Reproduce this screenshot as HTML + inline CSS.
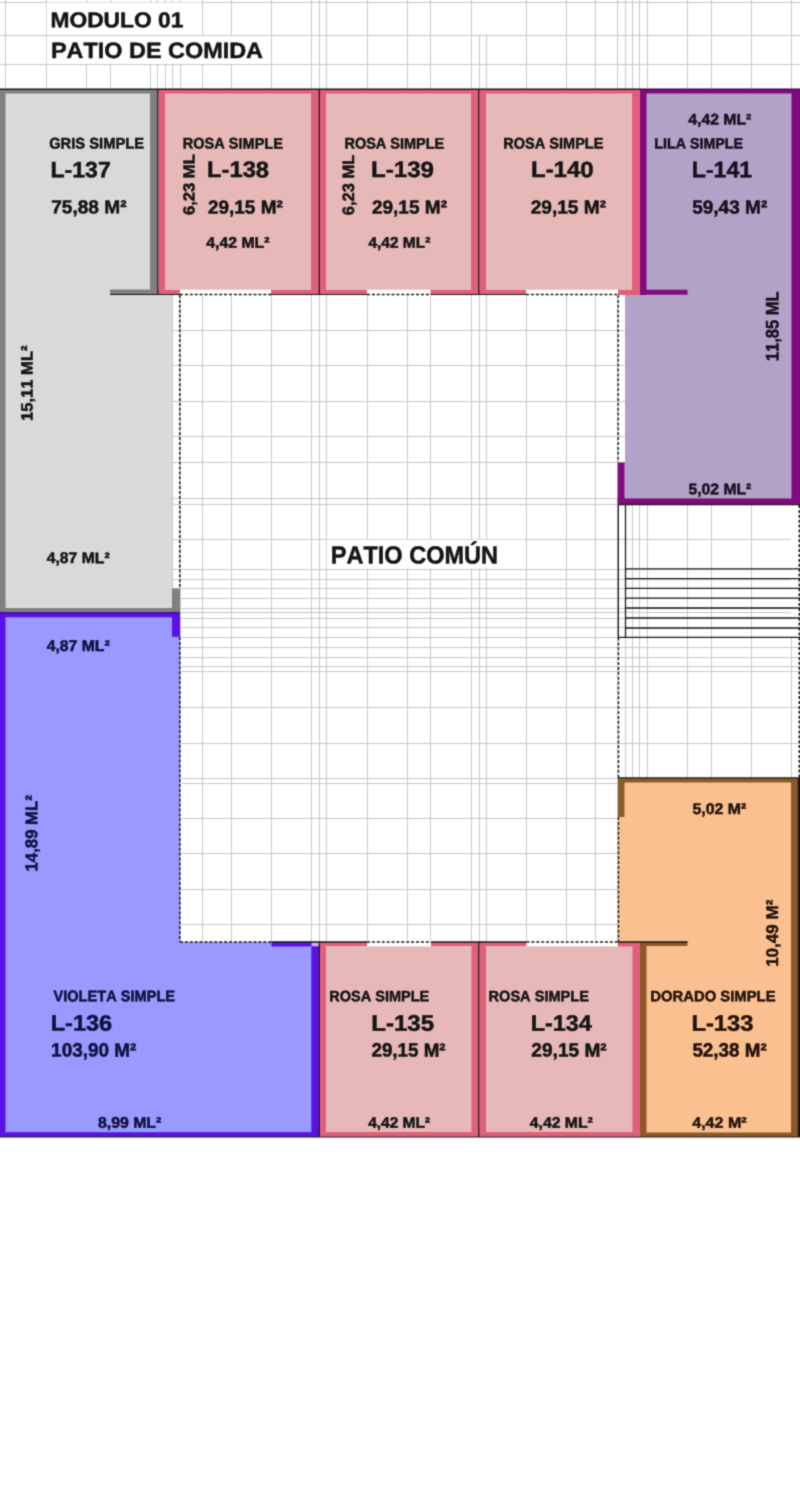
<!DOCTYPE html>
<html><head><meta charset="utf-8"><title>Modulo 01 - Patio de Comida</title>
<style>
html,body{margin:0;padding:0;background:#fff;}
body{width:800px;height:1500px;overflow:hidden;position:relative;font-family:"Liberation Sans",sans-serif;}
svg{display:block;position:absolute;left:0;top:0;}
svg text{font-family:"Liberation Sans",sans-serif;font-weight:bold;font-kerning:none;stroke-width:0.5px;stroke-linejoin:round;paint-order:stroke;}
</style></head><body>
<svg width="800" height="1500" viewBox="0 0 800 1500">
<rect x="0" y="0" width="800" height="1500" fill="#ffffff" />
<defs><filter id="soft" x="0" y="0" width="800" height="1500" filterUnits="userSpaceOnUse" color-interpolation-filters="sRGB"><feConvolveMatrix order="3" kernelMatrix="0.0277 0.1110 0.0277 0.1110 0.4452 0.1110 0.0277 0.1110 0.0277" edgeMode="duplicate" preserveAlpha="true"/></filter></defs>
<g filter="url(#soft)">
<rect x="0" y="0" width="800" height="1500" fill="#ffffff" />
<g id="grid">
<line x1="5.5" y1="0" x2="5.5" y2="1137" stroke="#c8c8c8" stroke-width="1" />
<line x1="46.5" y1="0" x2="46.5" y2="1137" stroke="#c8c8c8" stroke-width="1" />
<line x1="86.5" y1="0" x2="86.5" y2="1137" stroke="#c8c8c8" stroke-width="1" />
<line x1="110.5" y1="0" x2="110.5" y2="1137" stroke="#c8c8c8" stroke-width="1" />
<line x1="150.5" y1="0" x2="150.5" y2="1137" stroke="#c8c8c8" stroke-width="1" />
<line x1="157.5" y1="0" x2="157.5" y2="1137" stroke="#c8c8c8" stroke-width="1" />
<line x1="165.5" y1="0" x2="165.5" y2="1137" stroke="#c8c8c8" stroke-width="1" />
<line x1="172.5" y1="0" x2="172.5" y2="1137" stroke="#c8c8c8" stroke-width="1" />
<line x1="180.5" y1="0" x2="180.5" y2="1137" stroke="#c8c8c8" stroke-width="1" />
<line x1="202.5" y1="0" x2="202.5" y2="1137" stroke="#c8c8c8" stroke-width="1" />
<line x1="231.5" y1="0" x2="231.5" y2="1137" stroke="#c8c8c8" stroke-width="1" />
<line x1="271.5" y1="0" x2="271.5" y2="1137" stroke="#c8c8c8" stroke-width="1" />
<line x1="311.5" y1="0" x2="311.5" y2="1137" stroke="#c8c8c8" stroke-width="1" />
<line x1="319.5" y1="0" x2="319.5" y2="1137" stroke="#c8c8c8" stroke-width="1" />
<line x1="326.5" y1="0" x2="326.5" y2="1137" stroke="#c8c8c8" stroke-width="1" />
<line x1="367.5" y1="0" x2="367.5" y2="1137" stroke="#c8c8c8" stroke-width="1" />
<line x1="407.5" y1="0" x2="407.5" y2="1137" stroke="#c8c8c8" stroke-width="1" />
<line x1="430.5" y1="0" x2="430.5" y2="1137" stroke="#c8c8c8" stroke-width="1" />
<line x1="471.5" y1="0" x2="471.5" y2="1137" stroke="#c8c8c8" stroke-width="1" />
<line x1="479.5" y1="35" x2="479.5" y2="1137" stroke="#c8c8c8" stroke-width="1" />
<line x1="486.5" y1="35" x2="486.5" y2="1137" stroke="#c8c8c8" stroke-width="1" />
<line x1="526.5" y1="0" x2="526.5" y2="1137" stroke="#c8c8c8" stroke-width="1" />
<line x1="566.5" y1="0" x2="566.5" y2="1137" stroke="#c8c8c8" stroke-width="1" />
<line x1="595.5" y1="0" x2="595.5" y2="1137" stroke="#c8c8c8" stroke-width="1" />
<line x1="617.5" y1="0" x2="617.5" y2="1137" stroke="#c8c8c8" stroke-width="1" />
<line x1="625.5" y1="0" x2="625.5" y2="1137" stroke="#c8c8c8" stroke-width="1" />
<line x1="632.5" y1="0" x2="632.5" y2="1137" stroke="#c8c8c8" stroke-width="1" />
<line x1="639.5" y1="0" x2="639.5" y2="1137" stroke="#c8c8c8" stroke-width="1" />
<line x1="647.5" y1="0" x2="647.5" y2="1137" stroke="#c8c8c8" stroke-width="1" />
<line x1="687.5" y1="0" x2="687.5" y2="1137" stroke="#c8c8c8" stroke-width="1" />
<line x1="711.5" y1="0" x2="711.5" y2="1137" stroke="#c8c8c8" stroke-width="1" />
<line x1="751.5" y1="0" x2="751.5" y2="1137" stroke="#c8c8c8" stroke-width="1" />
<line x1="791.5" y1="0" x2="791.5" y2="1137" stroke="#c8c8c8" stroke-width="1" />
<line x1="0" y1="2.5" x2="800" y2="2.5" stroke="#c8c8c8" stroke-width="1" />
<line x1="0" y1="35.5" x2="800" y2="35.5" stroke="#c8c8c8" stroke-width="1" />
<line x1="0" y1="64.5" x2="800" y2="64.5" stroke="#c8c8c8" stroke-width="1" />
<line x1="0" y1="330.5" x2="800" y2="330.5" stroke="#c8c8c8" stroke-width="1" />
<line x1="0" y1="365.5" x2="800" y2="365.5" stroke="#c8c8c8" stroke-width="1" />
<line x1="0" y1="401.5" x2="800" y2="401.5" stroke="#c8c8c8" stroke-width="1" />
<line x1="0" y1="436.5" x2="800" y2="436.5" stroke="#c8c8c8" stroke-width="1" />
<line x1="0" y1="462.5" x2="800" y2="462.5" stroke="#c8c8c8" stroke-width="1" />
<line x1="0" y1="498.5" x2="800" y2="498.5" stroke="#c8c8c8" stroke-width="1" />
<line x1="0" y1="504.5" x2="800" y2="504.5" stroke="#c8c8c8" stroke-width="1" />
<line x1="0" y1="539.5" x2="800" y2="539.5" stroke="#c8c8c8" stroke-width="1" />
<line x1="0" y1="569.5" x2="800" y2="569.5" stroke="#c8c8c8" stroke-width="1" />
<line x1="0" y1="579.5" x2="800" y2="579.5" stroke="#c8c8c8" stroke-width="1" />
<line x1="0" y1="588.5" x2="800" y2="588.5" stroke="#c8c8c8" stroke-width="1" />
<line x1="0" y1="598.5" x2="800" y2="598.5" stroke="#c8c8c8" stroke-width="1" />
<line x1="0" y1="608.5" x2="800" y2="608.5" stroke="#c8c8c8" stroke-width="1" />
<line x1="0" y1="612.5" x2="800" y2="612.5" stroke="#c8c8c8" stroke-width="1" />
<line x1="0" y1="618.5" x2="800" y2="618.5" stroke="#c8c8c8" stroke-width="1" />
<line x1="0" y1="627.5" x2="800" y2="627.5" stroke="#c8c8c8" stroke-width="1" />
<line x1="0" y1="637.5" x2="800" y2="637.5" stroke="#c8c8c8" stroke-width="1" />
<line x1="0" y1="647.5" x2="800" y2="647.5" stroke="#c8c8c8" stroke-width="1" />
<line x1="0" y1="657.5" x2="800" y2="657.5" stroke="#c8c8c8" stroke-width="1" />
<line x1="0" y1="666.5" x2="800" y2="666.5" stroke="#c8c8c8" stroke-width="1" />
<line x1="0" y1="671.5" x2="800" y2="671.5" stroke="#c8c8c8" stroke-width="1" />
<line x1="0" y1="707.5" x2="800" y2="707.5" stroke="#c8c8c8" stroke-width="1" />
<line x1="0" y1="743.5" x2="800" y2="743.5" stroke="#c8c8c8" stroke-width="1" />
<line x1="0" y1="778.5" x2="800" y2="778.5" stroke="#c8c8c8" stroke-width="1" />
<line x1="0" y1="783.5" x2="800" y2="783.5" stroke="#c8c8c8" stroke-width="1" />
<line x1="0" y1="818.5" x2="800" y2="818.5" stroke="#c8c8c8" stroke-width="1" />
<line x1="0" y1="853.5" x2="800" y2="853.5" stroke="#c8c8c8" stroke-width="1" />
<line x1="0" y1="889.5" x2="800" y2="889.5" stroke="#c8c8c8" stroke-width="1" />
<line x1="0" y1="924.5" x2="800" y2="924.5" stroke="#c8c8c8" stroke-width="1" />
<rect x="46.7" y="2.7" width="155.1" height="31.9" fill="#fff" />
<rect x="46.7" y="36" width="223.6" height="27.8" fill="#fff" />
<rect x="326.7" y="539.7" width="198.6" height="28.6" fill="#fff" />
<rect x="790.8" y="505" width="9.2" height="132" fill="#fff" />
</g>
<g id="shapes">
<rect x="0" y="89" width="158" height="206" fill="#d9d9d9" />
<rect x="0" y="295" width="172" height="317" fill="#d9d9d9" />
<rect x="0" y="89" width="5.5" height="523" fill="#808080" />
<rect x="0" y="89.5" width="158" height="4" fill="#808080" />
<rect x="150" y="89" width="7.5" height="206" fill="#808080" />
<rect x="110" y="289.5" width="48" height="5" fill="#808080" />
<rect x="0" y="608" width="180" height="4.4" fill="#808080" />
<rect x="172" y="588.5" width="8" height="20" fill="#808080" />
<rect x="158.5" y="89" width="160.5" height="206" fill="#e6b8b7" />
<rect x="158.5" y="89" width="6.5" height="206" fill="#e0607a" />
<rect x="311" y="89" width="8" height="206" fill="#e0607a" />
<rect x="158.5" y="89.5" width="160.5" height="4" fill="#e0607a" />
<rect x="158.5" y="290" width="160.5" height="5" fill="#e0607a" />
<rect x="180" y="289.7" width="91" height="6.3" fill="#ffffff" />
<rect x="319.5" y="89" width="159.5" height="206" fill="#e6b8b7" />
<rect x="319.5" y="89" width="6.5" height="206" fill="#e0607a" />
<rect x="471" y="89" width="8" height="206" fill="#e0607a" />
<rect x="319.5" y="89.5" width="159.5" height="4" fill="#e0607a" />
<rect x="319.5" y="290" width="159.5" height="5" fill="#e0607a" />
<rect x="367" y="289.7" width="63.5" height="6.3" fill="#ffffff" />
<rect x="479.5" y="89" width="160.5" height="206" fill="#e6b8b7" />
<rect x="479.5" y="89" width="6.5" height="206" fill="#e0607a" />
<rect x="632" y="89" width="8" height="206" fill="#e0607a" />
<rect x="479.5" y="89.5" width="160.5" height="4" fill="#e0607a" />
<rect x="479.5" y="290" width="160.5" height="5" fill="#e0607a" />
<rect x="526" y="289.7" width="92" height="6.3" fill="#ffffff" />
<rect x="640" y="89" width="160" height="206" fill="#b3a2c7" />
<rect x="625" y="295" width="175" height="209.5" fill="#b3a2c7" />
<rect x="640" y="89" width="6.5" height="206" fill="#800a80" />
<rect x="640" y="89.5" width="160" height="4" fill="#800a80" />
<rect x="791.5" y="89" width="8.5" height="415.5" fill="#800a80" />
<rect x="640" y="289.7" width="47.5" height="5" fill="#800a80" />
<rect x="617.7" y="462.5" width="7" height="42" fill="#800a80" />
<rect x="617.7" y="498.5" width="182.3" height="6" fill="#800a80" />
<rect x="0" y="612.4" width="180" height="524.6" fill="#9999ff" />
<rect x="0" y="942" width="319" height="195" fill="#9999ff" />
<rect x="0" y="612.4" width="5.5" height="524.6" fill="#5a12e6" />
<rect x="0" y="612.4" width="180" height="4.9" fill="#5a12e6" />
<rect x="172" y="612.4" width="8" height="24.4" fill="#5a12e6" />
<rect x="0" y="612.2" width="180" height="1.4" fill="#3a0c9c" />
<rect x="271.5" y="941.8" width="39.8" height="4.7" fill="#5a12e6" />
<rect x="311.3" y="942" width="7.7" height="195" fill="#5a12e6" />
<rect x="311.6" y="942.4" width="7.4" height="3.8" fill="#d4b4f2" />
<rect x="0" y="1132.2" width="319" height="4.8" fill="#5a12e6" />
<rect x="319.5" y="942" width="159.5" height="195" fill="#e6b8b7" />
<rect x="319.5" y="942" width="6.5" height="195" fill="#e0607a" />
<rect x="471.5" y="942" width="7.5" height="195" fill="#e0607a" />
<rect x="319.5" y="942" width="159.5" height="4" fill="#e0607a" />
<rect x="319.5" y="1132" width="159.5" height="5" fill="#e0607a" />
<rect x="367" y="940.5" width="64" height="6" fill="#ffffff" />
<rect x="479.5" y="942" width="160.5" height="195" fill="#e6b8b7" />
<rect x="479.5" y="942" width="6.5" height="195" fill="#e0607a" />
<rect x="632.5" y="942" width="7.5" height="195" fill="#e0607a" />
<rect x="479.5" y="942" width="160.5" height="4" fill="#e0607a" />
<rect x="479.5" y="1132" width="160.5" height="5" fill="#e0607a" />
<rect x="526.5" y="940.5" width="92" height="6" fill="#ffffff" />
<rect x="618" y="778" width="182" height="167" fill="#fac090" />
<rect x="640" y="945" width="160" height="192" fill="#fac090" />
<rect x="618" y="778" width="182" height="4.5" fill="#8c5a28" />
<rect x="618" y="778" width="6.5" height="39" fill="#8c5a28" />
<rect x="791" y="778" width="9" height="359" fill="#8c5a28" />
<rect x="618" y="942" width="69.5" height="4" fill="#8c5a28" />
<rect x="640" y="942" width="6.5" height="195" fill="#8c5a28" />
<rect x="640" y="1132.5" width="160" height="4.5" fill="#8c5a28" />
<rect x="619" y="942.5" width="21" height="4" fill="#e0607a" />
<rect x="797.8" y="778" width="2.2" height="359" fill="#20100a" />
</g>
<g id="lines">
<line x1="0" y1="89.2" x2="640" y2="89.2" stroke="#1a1a1a" stroke-width="1.5" />
<line x1="640" y1="89.2" x2="800" y2="89.2" stroke="#4a084a" stroke-width="1.5" />
<line x1="157.8" y1="89" x2="157.8" y2="295" stroke="#1a1a1a" stroke-width="1.3" />
<line x1="319.3" y1="89" x2="319.3" y2="295" stroke="#1a1a1a" stroke-width="1.3" />
<line x1="478.8" y1="89" x2="478.8" y2="295" stroke="#1a1a1a" stroke-width="1.3" />
<line x1="110" y1="294.5" x2="180" y2="294.5" stroke="#1a1a1a" stroke-width="1.2" />
<line x1="271" y1="294.5" x2="367" y2="294.5" stroke="#1a1a1a" stroke-width="1.2" />
<line x1="430.5" y1="294.5" x2="526" y2="294.5" stroke="#1a1a1a" stroke-width="1.2" />
<line x1="319.3" y1="942" x2="319.3" y2="1137" stroke="#1a1a1a" stroke-width="1.3" />
<line x1="478.8" y1="942" x2="478.8" y2="1137" stroke="#1a1a1a" stroke-width="1.3" />
<line x1="0" y1="1137" x2="800" y2="1137" stroke="#1a1a1a" stroke-width="1.2" />
<line x1="271.5" y1="942" x2="367" y2="942" stroke="#1a1a1a" stroke-width="1.3" />
<line x1="431" y1="942" x2="526.5" y2="942" stroke="#1a1a1a" stroke-width="1.3" />
<line x1="618" y1="942" x2="687.5" y2="942" stroke="#1a1a1a" stroke-width="1.3" />
<line x1="618" y1="777.8" x2="800" y2="777.8" stroke="#1a1a1a" stroke-width="1.3" />
<line x1="180" y1="294.5" x2="271" y2="294.5" stroke="#1a1a1a" stroke-width="1.4" stroke-dasharray="3 1.9"/>
<line x1="367" y1="294.5" x2="430.5" y2="294.5" stroke="#1a1a1a" stroke-width="1.4" stroke-dasharray="3 1.9"/>
<line x1="526" y1="294.5" x2="618" y2="294.5" stroke="#1a1a1a" stroke-width="1.4" stroke-dasharray="3 1.9"/>
<line x1="179.7" y1="295" x2="179.7" y2="588" stroke="#1a1a1a" stroke-width="1.4" stroke-dasharray="3 1.9"/>
<line x1="179.7" y1="637" x2="179.7" y2="942" stroke="#1a1a1a" stroke-width="1.4" stroke-dasharray="3 1.9"/>
<line x1="618.2" y1="295" x2="618.2" y2="462" stroke="#1a1a1a" stroke-width="1.4" stroke-dasharray="3 1.9"/>
<line x1="618.5" y1="637.5" x2="618.5" y2="778" stroke="#1a1a1a" stroke-width="1.4" stroke-dasharray="3 1.9"/>
<line x1="618.5" y1="817" x2="618.5" y2="942" stroke="#1a1a1a" stroke-width="1.4" stroke-dasharray="3 1.9"/>
<line x1="799.3" y1="505" x2="799.3" y2="778" stroke="#1a1a1a" stroke-width="1.4" stroke-dasharray="3 1.9"/>
<line x1="180" y1="942" x2="271.5" y2="942" stroke="#1a1a1a" stroke-width="1.4" stroke-dasharray="3 1.9"/>
<line x1="367" y1="942" x2="431" y2="942" stroke="#1a1a1a" stroke-width="1.4" stroke-dasharray="3 1.9"/>
<line x1="526.5" y1="942" x2="618.5" y2="942" stroke="#1a1a1a" stroke-width="1.4" stroke-dasharray="3 1.9"/>
<line x1="618" y1="504.6" x2="800" y2="504.6" stroke="#1a1a1a" stroke-width="1.2" />
<line x1="618.3" y1="505" x2="618.3" y2="637.5" stroke="#1a1a1a" stroke-width="1.3" />
<line x1="625.5" y1="505" x2="625.5" y2="637.5" stroke="#1a1a1a" stroke-width="1.3" />
<line x1="625.5" y1="568.8" x2="800" y2="568.8" stroke="#1a1a1a" stroke-width="1.3" />
<line x1="625.5" y1="578.7" x2="800" y2="578.7" stroke="#1a1a1a" stroke-width="1.3" />
<line x1="625.5" y1="588.4" x2="800" y2="588.4" stroke="#1a1a1a" stroke-width="1.3" />
<line x1="625.5" y1="598.2" x2="800" y2="598.2" stroke="#1a1a1a" stroke-width="1.3" />
<line x1="625.5" y1="608" x2="800" y2="608" stroke="#1a1a1a" stroke-width="1.3" />
<line x1="625.5" y1="618" x2="800" y2="618" stroke="#1a1a1a" stroke-width="1.3" />
<line x1="625.5" y1="628" x2="800" y2="628" stroke="#1a1a1a" stroke-width="1.3" />
<line x1="618" y1="637.3" x2="800" y2="637.3" stroke="#1a1a1a" stroke-width="1.3" />
</g>
<g id="labels" font-weight="bold">
<text transform="translate(50.46,27.20) rotate(0.03) scale(1.0661,1)" font-size="21.37" fill="#141414" stroke="#141414">MODULO 01</text>
<text transform="translate(50.92,57.90) rotate(0.03) scale(1.0538,1)" font-size="22.24" fill="#141414" stroke="#141414">PATIO DE COMIDA</text>
<text transform="translate(330.81,563.50) rotate(0.03) scale(0.9464,1)" font-size="24.85" fill="#141414" stroke="#141414">PATIO COMÚN</text>
<text transform="translate(49.16,148.40) rotate(0.03) scale(0.9650,1)" font-size="15.26" fill="#141414" stroke="#141414">GRIS SIMPLE</text>
<text transform="translate(50.44,177.30) rotate(0.03) scale(1.0382,1)" font-size="22.24" fill="#141414" stroke="#141414">L-137</text>
<text transform="translate(51.19,213.20) rotate(0.03) scale(1.0277,1)" font-size="18.60" fill="#141414" stroke="#141414">75,88 M²</text>
<text transform="translate(46.66,563.10) rotate(0.03) scale(1.0230,1)" font-size="15.41" fill="#141414" stroke="#141414">4,87 ML²</text>
<text transform="translate(32.40,421.04) rotate(-89.97) scale(1.0104,1)" font-size="16.42" fill="#141414" stroke="#141414">15,11 ML²</text>
<text transform="translate(182.82,148.60) rotate(0.03) scale(0.9435,1)" font-size="15.41" fill="#141414" stroke="#141414">ROSA SIMPLE</text>
<text transform="translate(207.10,177.10) rotate(0.03) scale(1.0593,1)" font-size="22.38" fill="#141414" stroke="#141414">L-138</text>
<text transform="translate(208.04,213.50) rotate(0.03) scale(1.0102,1)" font-size="18.75" fill="#141414" stroke="#141414">29,15 M²</text>
<text transform="translate(206.36,247.70) rotate(0.03) scale(1.0230,1)" font-size="15.41" fill="#141414" stroke="#141414">4,42 ML²</text>
<text transform="translate(194.40,215.02) rotate(-89.97) scale(1.0279,1)" font-size="16.13" fill="#141414" stroke="#141414">6,23 ML</text>
<text transform="translate(344.42,148.60) rotate(0.03) scale(0.9407,1)" font-size="15.41" fill="#141414" stroke="#141414">ROSA SIMPLE</text>
<text transform="translate(370.97,177.10) rotate(0.03) scale(1.0792,1)" font-size="22.38" fill="#141414" stroke="#141414">L-139</text>
<text transform="translate(371.93,213.50) rotate(0.03) scale(1.0157,1)" font-size="18.75" fill="#141414" stroke="#141414">29,15 M²</text>
<text transform="translate(368.47,247.70) rotate(0.03) scale(1.0033,1)" font-size="15.41" fill="#141414" stroke="#141414">4,42 ML²</text>
<text transform="translate(354.00,215.22) rotate(-89.97) scale(1.0081,1)" font-size="16.42" fill="#141414" stroke="#141414">6,23 ML</text>
<text transform="translate(503.32,148.50) rotate(0.03) scale(0.9535,1)" font-size="15.26" fill="#141414" stroke="#141414">ROSA SIMPLE</text>
<text transform="translate(530.98,177.10) rotate(0.03) scale(1.0724,1)" font-size="22.38" fill="#141414" stroke="#141414">L-140</text>
<text transform="translate(530.73,213.50) rotate(0.03) scale(1.0184,1)" font-size="18.75" fill="#141414" stroke="#141414">29,15 M²</text>
<text transform="translate(688.26,124.50) rotate(0.03) scale(1.0327,1)" font-size="15.26" fill="#16101e" stroke="#16101e">4,42 ML²</text>
<text transform="translate(654.34,148.50) rotate(0.03) scale(0.9525,1)" font-size="14.97" fill="#16101e" stroke="#16101e">LILA SIMPLE</text>
<text transform="translate(691.84,177.20) rotate(0.03) scale(1.0316,1)" font-size="22.38" fill="#16101e" stroke="#16101e">L-141</text>
<text transform="translate(692.18,213.40) rotate(0.03) scale(1.0151,1)" font-size="18.75" fill="#16101e" stroke="#16101e">59,43 M²</text>
<text transform="translate(778.50,361.29) rotate(-89.97) scale(0.9120,1)" font-size="18.17" fill="#16101e" stroke="#16101e">11,85 ML</text>
<text transform="translate(688.49,494.20) rotate(0.03) scale(1.0193,1)" font-size="15.41" fill="#16101e" stroke="#16101e">5,02 ML²</text>
<text transform="translate(46.66,650.90) rotate(0.03) scale(1.0134,1)" font-size="15.55" fill="#10103f" stroke="#10103f">4,87 ML²</text>
<text transform="translate(37.25,871.45) rotate(-89.97) scale(0.9899,1)" font-size="16.93" fill="#10103f" stroke="#10103f">14,89 ML²</text>
<text transform="translate(53.49,1001.30) rotate(0.03) scale(0.9567,1)" font-size="15.26" fill="#10103f" stroke="#10103f">VIOLETA SIMPLE</text>
<text transform="translate(50.71,1030.60) rotate(0.03) scale(1.0593,1)" font-size="22.24" fill="#10103f" stroke="#10103f">L-136</text>
<text transform="translate(51.12,1056.60) rotate(0.03) scale(0.9871,1)" font-size="19.19" fill="#10103f" stroke="#10103f">103,90 M²</text>
<text transform="translate(97.99,1127.80) rotate(0.03) scale(1.0373,1)" font-size="15.26" fill="#10103f" stroke="#10103f">8,99 ML²</text>
<text transform="translate(329.32,1001.25) rotate(0.03) scale(0.9743,1)" font-size="14.90" fill="#141414" stroke="#141414">ROSA SIMPLE</text>
<text transform="translate(371.28,1030.80) rotate(0.03) scale(1.0672,1)" font-size="22.53" fill="#141414" stroke="#141414">L-135</text>
<text transform="translate(371.44,1056.60) rotate(0.03) scale(0.9799,1)" font-size="19.19" fill="#141414" stroke="#141414">29,15 M²</text>
<text transform="translate(368.17,1127.80) rotate(0.03) scale(1.0226,1)" font-size="15.12" fill="#141414" stroke="#141414">4,42 ML²</text>
<text transform="translate(488.51,1001.25) rotate(0.03) scale(0.9797,1)" font-size="14.90" fill="#141414" stroke="#141414">ROSA SIMPLE</text>
<text transform="translate(530.73,1030.70) rotate(0.03) scale(1.0418,1)" font-size="22.38" fill="#141414" stroke="#141414">L-134</text>
<text transform="translate(531.33,1056.60) rotate(0.03) scale(0.9966,1)" font-size="19.19" fill="#141414" stroke="#141414">29,15 M²</text>
<text transform="translate(529.76,1127.80) rotate(0.03) scale(1.0343,1)" font-size="15.26" fill="#141414" stroke="#141414">4,42 ML²</text>
<text transform="translate(650.30,1001.25) rotate(0.03) scale(0.9958,1)" font-size="14.90" fill="#24120a" stroke="#24120a">DORADO SIMPLE</text>
<text transform="translate(691.40,1030.70) rotate(0.03) scale(1.0596,1)" font-size="22.38" fill="#24120a" stroke="#24120a">L-133</text>
<text transform="translate(692.39,1056.60) rotate(0.03) scale(0.9813,1)" font-size="19.19" fill="#24120a" stroke="#24120a">52,38 M²</text>
<text transform="translate(692.26,1127.80) rotate(0.03) scale(1.0508,1)" font-size="15.26" fill="#24120a" stroke="#24120a">4,42 M²</text>
<text transform="translate(692.48,814.00) rotate(0.03) scale(1.0308,1)" font-size="15.41" fill="#24120a" stroke="#24120a">5,02 M²</text>
<text transform="translate(778.00,966.87) rotate(-89.97) scale(1.0046,1)" font-size="17.01" fill="#24120a" stroke="#24120a">10,49 M²</text>
</g>
</g>
</svg>
</body></html>
